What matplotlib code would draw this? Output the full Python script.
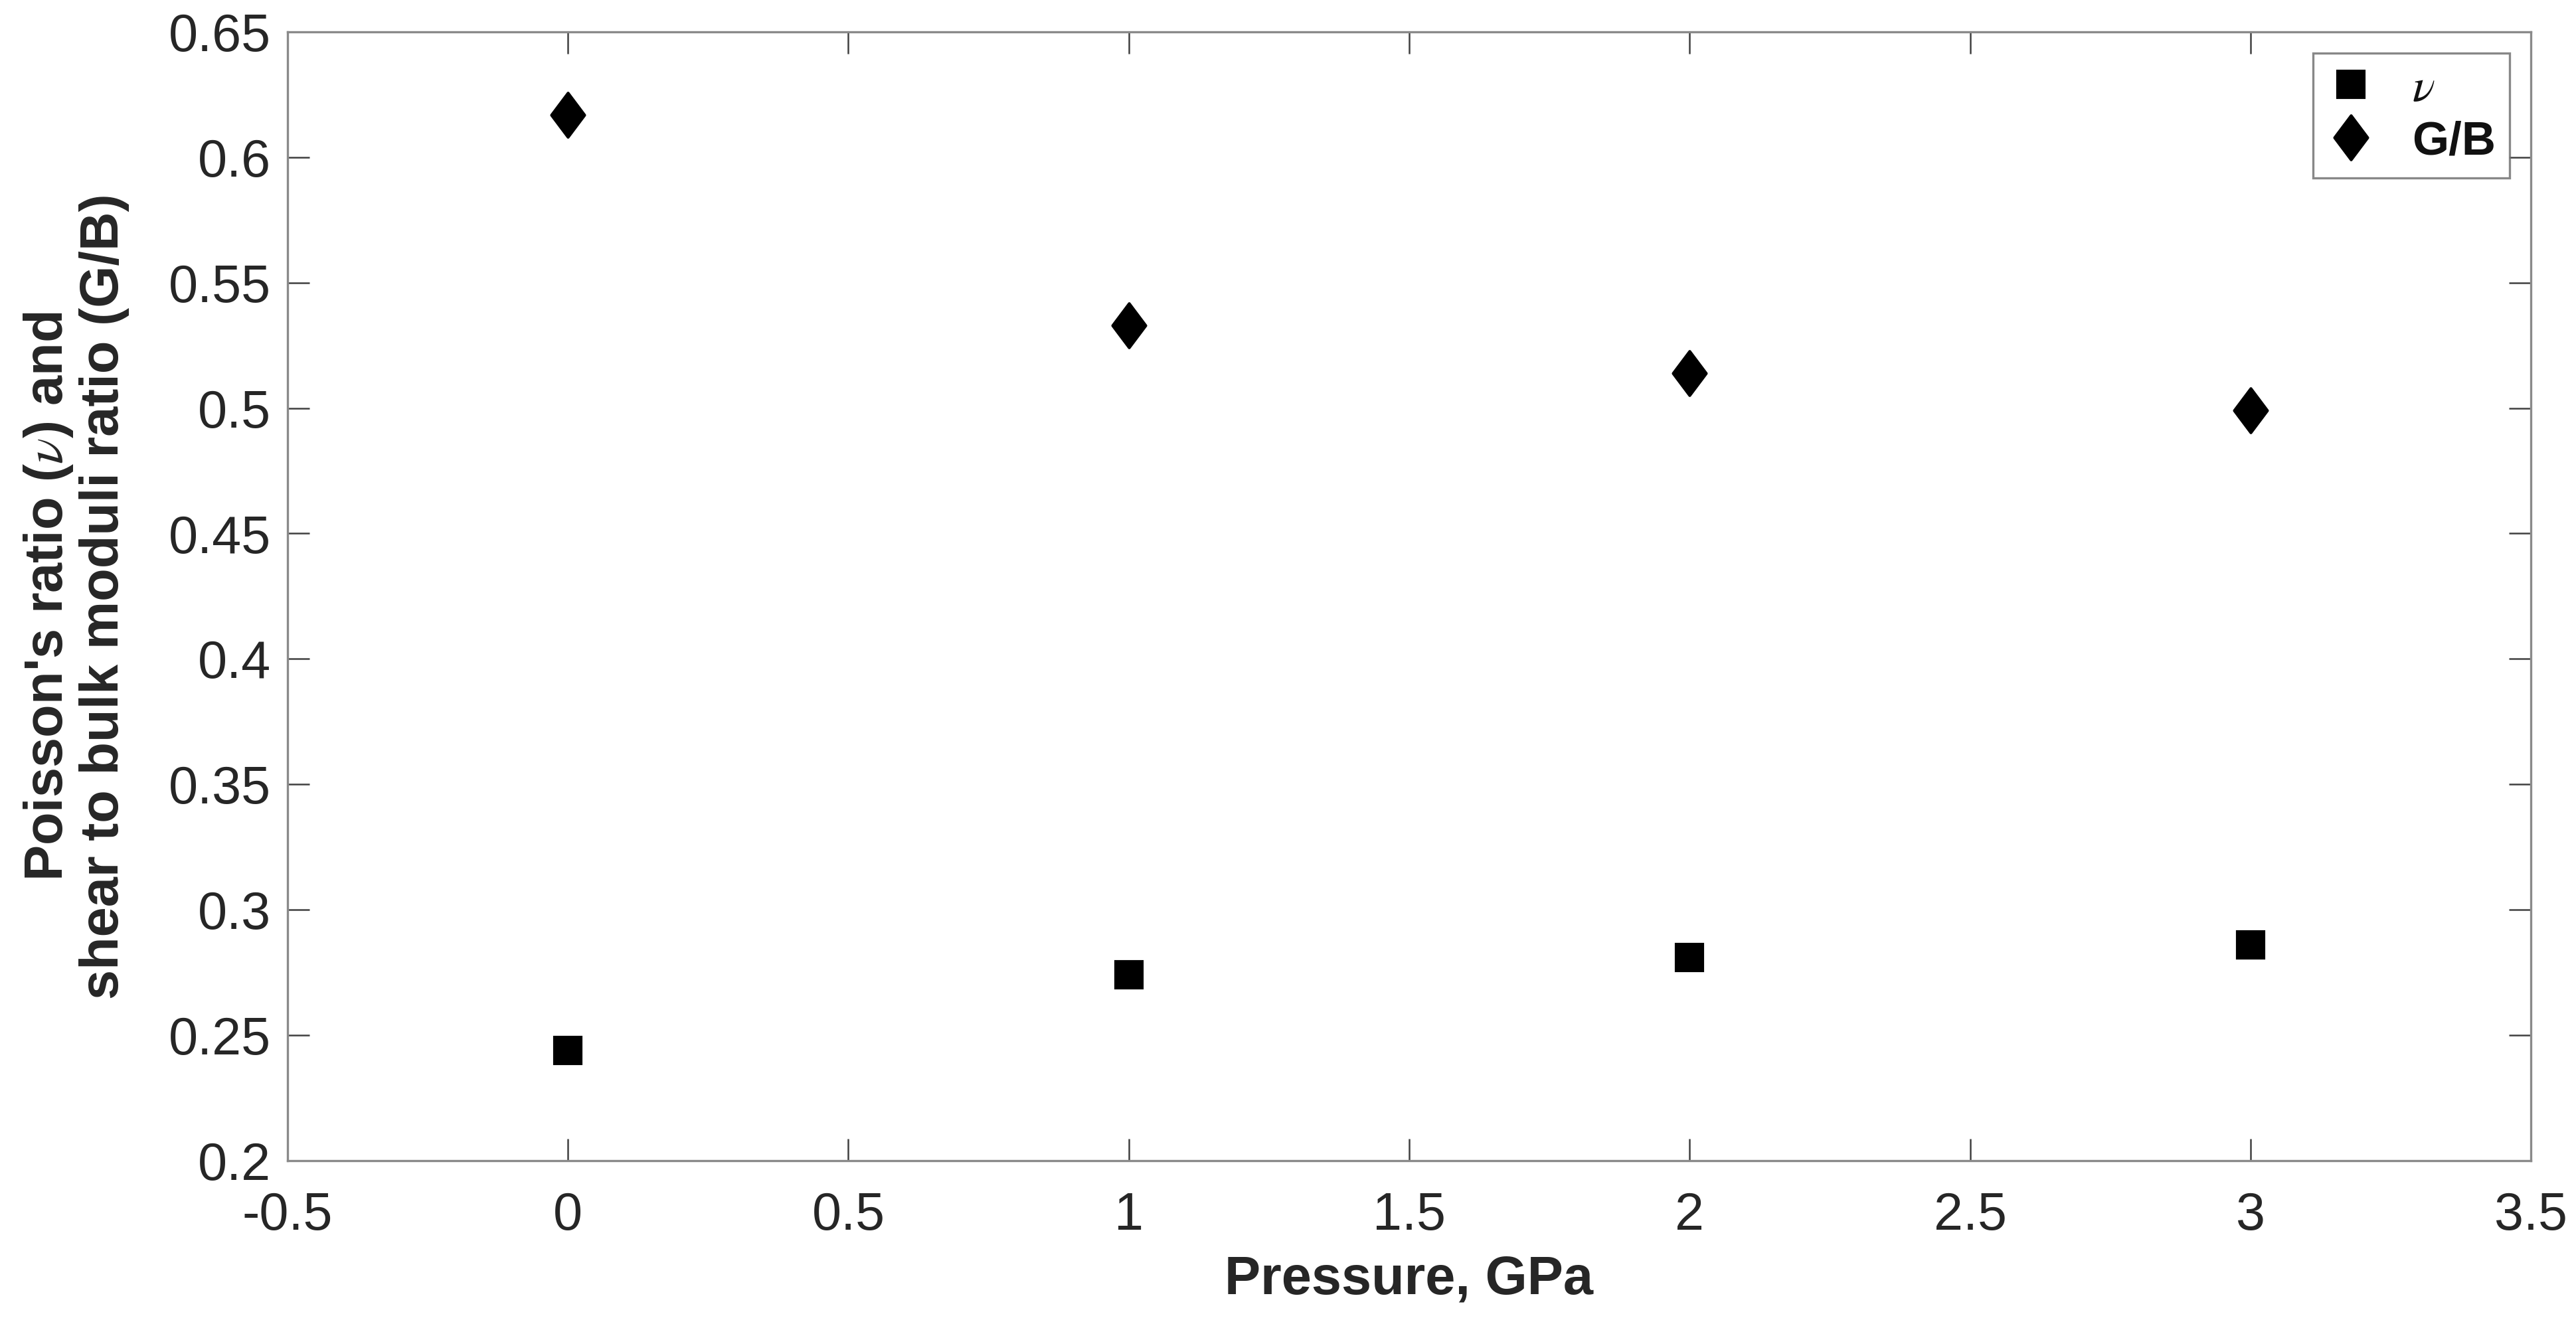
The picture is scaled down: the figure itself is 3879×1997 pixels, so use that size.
import matplotlib.pyplot as plt
from matplotlib.path import Path

plt.rcParams['font.family'] = ['Liberation Sans', 'DejaVu Sans']
plt.rcParams['mathtext.fontset'] = 'stix'

pressure = [0, 1, 2, 3]
poisson = [0.244, 0.274, 0.281, 0.286]
g_over_b = [0.617, 0.533, 0.514, 0.499]

x_ticks = [-0.5, 0, 0.5, 1, 1.5, 2, 2.5, 3, 3.5]
y_ticks = [0.2, 0.25, 0.3, 0.35, 0.4, 0.45, 0.5, 0.55, 0.6, 0.65]

# narrow diamond like the MATLAB one
diamond = Path([(0, 1), (0.75, 0), (0, -1), (-0.75, 0), (0, 1)],
               [Path.MOVETO, Path.LINETO, Path.LINETO, Path.LINETO, Path.CLOSEPOLY])

fig = plt.figure(figsize=(12.93, 6.657), dpi=300)
ax = fig.add_axes([0.1116, 0.1247, 0.8709, 0.8513])

ax.plot(pressure, poisson, linestyle='none', marker='s', markersize=9.6,
        color='black', label=r'$\nu$')
ax.plot(pressure, g_over_b, linestyle='none', marker=diamond, markersize=16,
        color='black', label='G/B')

ax.set_xlim(-0.5, 3.5)
ax.set_ylim(0.2, 0.65)
ax.set_xticks(x_ticks)
ax.set_xticklabels([('%g' % t) for t in x_ticks])
ax.set_yticks(y_ticks)
ax.set_yticklabels([('%g' % t) for t in y_ticks])

ax.tick_params(direction='in', length=8, width=0.6, color='#404040',
               labelsize=19, labelcolor='#262626', top=True, right=True)
ax.tick_params(axis='x', pad=11)
ax.tick_params(axis='y', pad=6)
for s in ax.spines.values():
    s.set_color('#8a8a8a')
    s.set_linewidth(0.8)

ax.set_xlabel('Pressure, GPa', fontsize=19.5, fontweight='bold', color='#262626', labelpad=5)
ax.set_ylabel("Poisson's ratio ($\\nu$) and\nshear to bulk moduli ratio (G/B)",
              fontsize=19.5, fontweight='bold', color='#262626', labelpad=14,
              linespacing=1.1)

leg = ax.legend(loc='upper right', fontsize=17, frameon=True, fancybox=False,
                borderaxespad=0.45, handlelength=1.0, handletextpad=0.8,
                borderpad=0.3, labelspacing=0.2)
leg.get_frame().set_edgecolor('#6a6a6a')
leg.get_frame().set_linewidth(0.8)
for t in leg.get_texts():
    t.set_fontweight('bold')
    t.set_color('#111111')

fig.savefig('out.png', dpi=300)
